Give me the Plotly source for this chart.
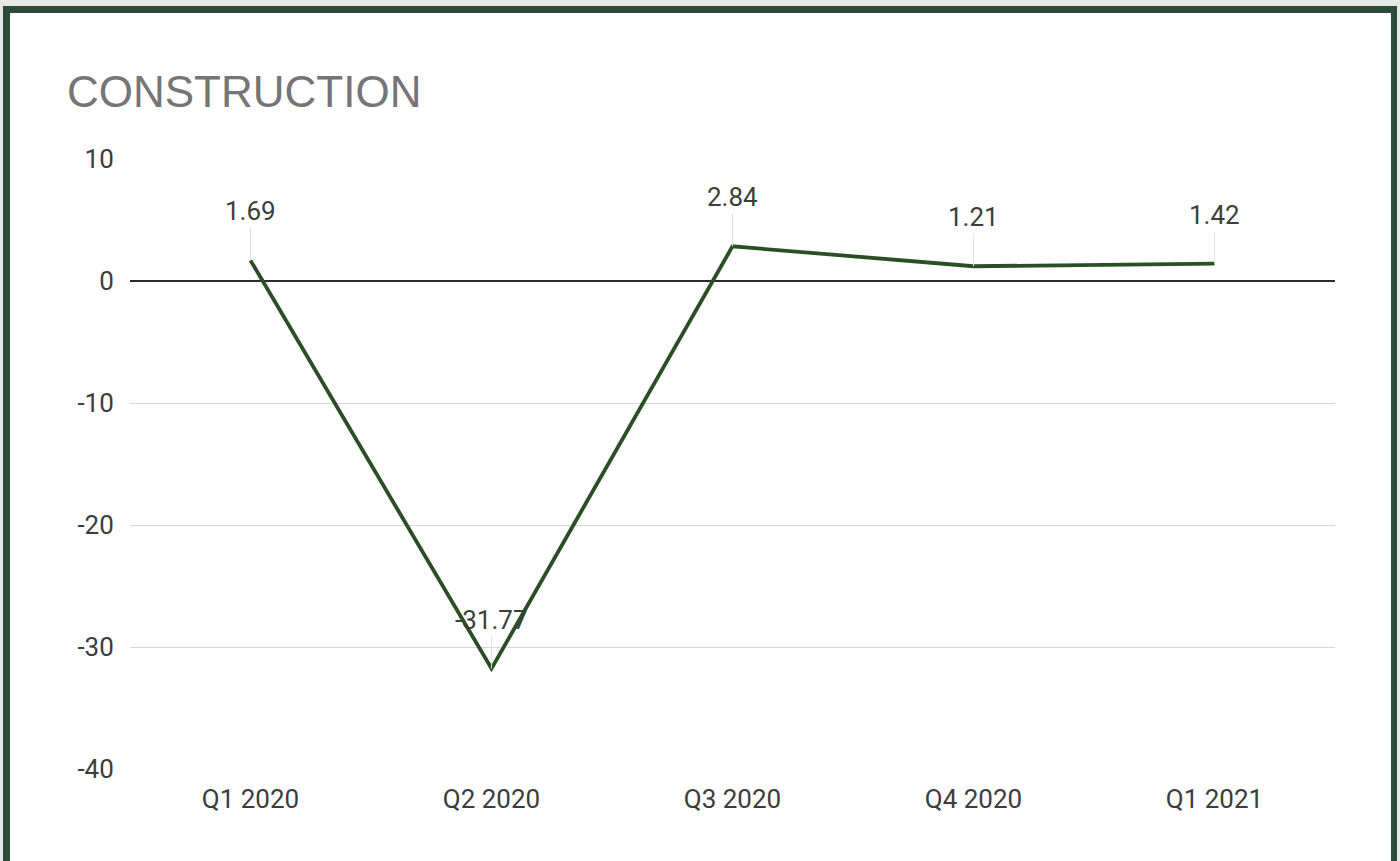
import plotly.graph_objects as go

quarters = ["Q1 2020", "Q2 2020", "Q3 2020", "Q4 2020", "Q1 2021"]
values = [1.69, -31.77, 2.84, 1.21, 1.42]
labels = ["1.69", "-31.77", "2.84", "1.21", "1.42"]
y_ticks = [10, 0, -10, -20, -30, -40]
y_tick_text = ["10", "0", "-10", "-20", "-30", "-40"]

W, H = 1400, 861
L, R, T, B = 130, 65, 159, 92
PW, PH = W - L - R, H - T - B


def px(x):
    return (x - L) / PW


def py(y):
    return 1 - (y - T) / PH


fig = go.Figure()
fig.add_trace(go.Scatter(
    x=quarters, y=values, mode="lines",
    line=dict(color="#2b4f24", width=3.8),
    hoverinfo="skip", showlegend=False,
))

for q, v, t in zip(quarters, values, labels):
    fig.add_annotation(
        x=q, y=v, text=t, showarrow=True, ax=0, ay=-49,
        arrowhead=0, arrowwidth=1, arrowcolor="#dfe3e6", standoff=0,
        font=dict(family="Roboto", size=26, color="#3a3f38"),
    )

shapes = [
    dict(type="rect", xref="paper", yref="paper", layer="below",
         x0=px(3), x1=px(1397), y0=py(H + 20), y1=py(6),
         fillcolor="#2d4a39", line=dict(width=0)),
    dict(type="rect", xref="paper", yref="paper", layer="below",
         x0=px(10), x1=px(1391), y0=py(H + 20), y1=py(13),
         fillcolor="#ffffff", line=dict(width=0)),
]

fig.update_layout(
    width=W, height=H,
    margin=dict(l=L, r=R, t=T, b=B),
    paper_bgcolor="#e6e8e6",
    plot_bgcolor="rgba(0,0,0,0)",
    shapes=shapes,
    title=dict(text="CONSTRUCTION", xref="container", yref="container",
               x=67 / W, xanchor="left",
               y=1 - 92 / H, yanchor="middle",
               font=dict(family="Liberation Sans", size=44, color="#757575")),
    xaxis=dict(
        range=[-0.5, 4.5], showgrid=False, showline=False, zeroline=False,
        ticks="outside", ticklen=7, tickcolor="rgba(0,0,0,0)",
        tickfont=dict(family="Roboto", size=26, color="#3c3c3c"),
    ),
    yaxis=dict(
        range=[-40, 10], tickvals=y_ticks, ticktext=y_tick_text,
        showgrid=True, gridcolor="#d6d6d6",
        gridwidth=1, zeroline=True, zerolinecolor="#2b2b2b", zerolinewidth=1.5,
        showline=False, ticks="outside", ticklen=10, tickcolor="rgba(0,0,0,0)",
        tickfont=dict(family="Roboto", size=26, color="#3c3c3c"),
    ),
)

fig.write_html(
    "out.html",
    config={"displayModeBar": False},
    post_script="document.body.style.margin='0';document.body.style.background='#e6e8e6';",
)
